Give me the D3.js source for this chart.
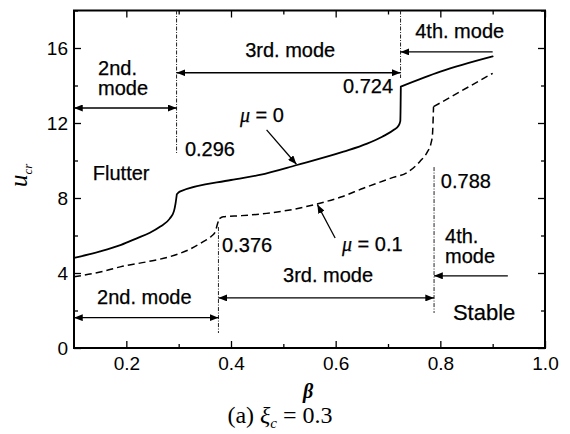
<!DOCTYPE html>
<html>
<head>
<meta charset="utf-8">
<script src="https://cdn.jsdelivr.net/npm/d3@7"></script>
<style>
  body { margin: 0; background: #fff; }
  svg { display: block; }
  .tick text { font-family: "Liberation Sans", Arial, sans-serif; font-size: 19px; fill: #000; }
  .lbl { font-family: "Liberation Sans", Arial, sans-serif; font-size: 20px; fill: #000; stroke: #000; stroke-width: 0.25px; }
</style>
</head>
<body>
<script>
// mu = 0 (solid)
var betaMu0 = [0.1, 0.15, 0.19, 0.22, 0.245, 0.265, 0.283, 0.291, 0.294, 0.2965, 0.302,
  0.4, 0.455, 0.526, 0.615, 0.66, 0.689, 0.712, 0.72, 0.7235, 0.7245, 0.8, 0.9];
var uMu0 = [4.8, 5.15, 5.5, 5.85, 6.15, 6.48, 6.9, 7.3, 7.7, 8.2, 8.34,
  8.96, 9.23, 9.76, 10.47, 10.9, 11.27, 11.65, 11.85, 12.1, 13.94, 14.74, 15.55];
var cornersMu0 = [9, 20];

// mu = 0.1 (dashed)
var betaMu01 = [0.1, 0.15, 0.19, 0.24, 0.283, 0.32, 0.347, 0.362, 0.37, 0.374, 0.378, 0.385,
  0.42, 0.468, 0.52, 0.564, 0.61, 0.653, 0.71, 0.736, 0.761, 0.775, 0.782, 0.785, 0.787, 0.9];
var uMu01 = [3.8, 4.05, 4.34, 4.6, 4.87, 5.25, 5.67, 5.95, 6.2, 6.6, 6.9, 7.0,
  7.06, 7.18, 7.4, 7.68, 8.05, 8.52, 9.1, 9.35, 9.95, 10.45, 10.9, 11.4, 12.87, 14.65];
var cornersMu01 = [10, 24];

// mode boundaries: beta value, u extent of the dotted line
var boundBeta = [0.296, 0.724, 0.376, 0.788];
var boundTop = [18, 18, 6.45, 9.65];
var boundBottom = [10.4, 14.4, 0.8, 1.87];

var xTicks = [0.2, 0.4, 0.6, 0.8, 1.0];
var xMinor = [0.3, 0.5, 0.7, 0.9];
var yTicks = [0, 4, 8, 12, 16];
var yMinor = [2, 6, 10, 14, 18];

var W = 570, H = 434;
var margin = {left: 74, top: 10.5, right: 25, bottom: 86};

var svg = d3.select("body").append("svg")
  .attr("width", W)
  .attr("height", H);

var x = d3.scaleLinear().domain([0.1, 1.0]).range([margin.left, W - margin.right]);
var y = d3.scaleLinear().domain([0, 18]).range([H - margin.bottom, margin.top]);

var defs = svg.append("defs");
defs.append("marker")
  .attr("id", "arr")
  .attr("viewBox", "0 0 10 8")
  .attr("refX", 10)
  .attr("refY", 4)
  .attr("markerWidth", 9)
  .attr("markerHeight", 7)
  .attr("markerUnits", "userSpaceOnUse")
  .attr("orient", "auto-start-reverse")
  .append("path")
  .attr("d", "M0,0 L10,4 L0,8 Z")
  .attr("fill", "#000");

// axes, ticks pointing inward on all four sides
var x0 = x.range()[0], x1 = x.range()[1], y0 = y.range()[0], y1 = y.range()[1];

function styleAxis(g) {
  g.select(".domain").remove();
  g.selectAll(".tick line").attr("stroke", "#000").attr("stroke-width", 1.3);
}

svg.append("g").attr("transform", "translate(0," + y0 + ")")
  .call(d3.axisBottom(x).tickValues(xTicks).tickFormat(d3.format(".1f")).tickSizeInner(-7).tickSizeOuter(0).tickPadding(9))
  .call(styleAxis);
svg.append("g").attr("transform", "translate(0," + y0 + ")")
  .call(d3.axisBottom(x).tickValues(xMinor).tickFormat("").tickSizeInner(-4).tickSizeOuter(0))
  .call(styleAxis);
svg.append("g").attr("transform", "translate(0," + y1 + ")")
  .call(d3.axisTop(x).tickValues(xTicks).tickFormat("").tickSizeInner(-7).tickSizeOuter(0))
  .call(styleAxis);
svg.append("g").attr("transform", "translate(0," + y1 + ")")
  .call(d3.axisTop(x).tickValues(xMinor).tickFormat("").tickSizeInner(-4).tickSizeOuter(0))
  .call(styleAxis);

svg.append("g").attr("transform", "translate(" + x0 + ",0)")
  .call(d3.axisLeft(y).tickValues(yTicks).tickFormat(d3.format("d")).tickSizeInner(-7).tickSizeOuter(0).tickPadding(6))
  .call(styleAxis);
svg.append("g").attr("transform", "translate(" + x0 + ",0)")
  .call(d3.axisLeft(y).tickValues(yMinor).tickFormat("").tickSizeInner(-4).tickSizeOuter(0))
  .call(styleAxis);
svg.append("g").attr("transform", "translate(" + x1 + ",0)")
  .call(d3.axisRight(y).tickValues(yTicks).tickFormat("").tickSizeInner(-7).tickSizeOuter(0))
  .call(styleAxis);
svg.append("g").attr("transform", "translate(" + x1 + ",0)")
  .call(d3.axisRight(y).tickValues(yMinor).tickFormat("").tickSizeInner(-4).tickSizeOuter(0))
  .call(styleAxis);

svg.selectAll(".tick text").attr("fill", "#000");

// frame
svg.append("rect")
  .attr("x", x0).attr("y", y1)
  .attr("width", x1 - x0).attr("height", y0 - y1)
  .attr("fill", "none").attr("stroke", "#000").attr("stroke-width", 2);

// dotted mode boundaries
svg.selectAll(".bound")
  .data(boundBeta)
  .enter()
  .append("line")
    .attr("class", "bound")
    .attr("x1", function(d) { return x(d); })
    .attr("x2", function(d) { return x(d); })
    .attr("y1", function(d, i) { return y(boundTop[i]); })
    .attr("y2", function(d, i) { return y(boundBottom[i]); })
    .attr("stroke", "#222")
    .attr("stroke-width", 1)
    .attr("stroke-dasharray", "4,1.5,1,1.5");

// curves: smooth pieces, broken at the sharp corners after each jump
var line = d3.line()
  .curve(d3.curveMonotoneX)
  .x(function(d) { return x(d[0]); })
  .y(function(d) { return y(d[1]); });

function curvePath(bs, us, corners) {
  var pts = d3.zip(bs, us);
  var cuts = [0].concat(corners, [pts.length - 1]);
  var d = "";
  for (var i = 0; i < cuts.length - 1; i++) {
    d += line(pts.slice(cuts[i], cuts[i + 1] + 1));
  }
  return d;
}

svg.append("path")
  .attr("d", curvePath(betaMu0, uMu0, cornersMu0))
  .attr("fill", "none")
  .attr("stroke", "#000")
  .attr("stroke-width", 1.8)
  .attr("stroke-linecap", "round");

svg.append("path")
  .attr("d", curvePath(betaMu01, uMu01, cornersMu01))
  .attr("fill", "none")
  .attr("stroke", "#000")
  .attr("stroke-width", 1.5)
  .attr("stroke-dasharray", "7,4");

// arrows (beta from, beta to, u, double headed?)
function arrow(b0, b1, u, both) {
  var l = svg.append("line")
    .attr("x1", x(b0)).attr("x2", x(b1))
    .attr("y1", y(u)).attr("y2", y(u))
    .attr("stroke", "#000").attr("stroke-width", 1.3)
    .attr("marker-end", "url(#arr)");
  if (both) l.attr("marker-start", "url(#arr)");
}
arrow(0.1, 0.296, 12.8, true);
arrow(0.296, 0.724, 14.68, true);
arrow(0.9, 0.724, 15.79, false);
arrow(0.1, 0.376, 1.62, true);
arrow(0.376, 0.788, 2.67, true);
arrow(0.929, 0.788, 3.85, false);

// leader arrows for the curve labels
function leader(b0, u0, b1, u1) {
  svg.append("line")
    .attr("x1", x(b0)).attr("y1", y(u0))
    .attr("x2", x(b1)).attr("y2", y(u1))
    .attr("stroke", "#000").attr("stroke-width", 1.3)
    .attr("marker-end", "url(#arr)");
}
leader(0.468, 11.63, 0.525, 9.8);
leader(0.599, 5.87, 0.565, 7.65);

// text labels (start anchored)
function label(txt, b, u, size) {
  svg.append("text")
    .attr("class", "lbl")
    .attr("x", x(b)).attr("y", y(u))
    .style("font-size", (size || 20) + "px")
    .text(txt);
}
label("2nd.", 0.146, 14.56);
label("mode", 0.146, 13.49);
label("3rd. mode", 0.427, 15.5);
label("4th. mode", 0.752, 16.53);
label("0.724", 0.614, 13.6);
label("0.296", 0.312, 10.24);
label("Flutter", 0.136, 8.96);
label("0.788", 0.801, 8.53);
label("0.376", 0.383, 5.12);
label("4th.", 0.809, 5.6);
label("mode", 0.809, 4.53);
label("3rd. mode", 0.4994, 3.52);
label("2nd. mode", 0.144, 2.35);
label("Stable", 0.824, 1.49, 22);

function muLabel(val, b, u) {
  var t = svg.append("text")
    .attr("class", "lbl")
    .attr("x", x(b)).attr("y", y(u));
  t.append("tspan")
    .style("font-family", "'Liberation Serif', 'Times New Roman', serif")
    .style("font-style", "italic")
    .text("\u03bc");
  t.append("tspan").text(" = " + val);
}
muLabel("0", 0.417, 12.05);
muLabel("0.1", 0.612, 5.17);

// axis titles
var ylab = svg.append("text")
  .attr("transform", "translate(27,187) rotate(-90)")
  .style("font-family", "'Liberation Serif', 'Times New Roman', serif")
  .style("font-style", "italic")
  .style("font-size", "25px");
ylab.append("tspan").text("u");
ylab.append("tspan").attr("dy", 5).style("font-size", "13px").text("cr");

svg.append("text")
  .attr("x", 308).attr("y", 398)
  .attr("text-anchor", "middle")
  .style("font-family", "'Liberation Serif', 'Times New Roman', serif")
  .style("font-style", "italic")
  .style("font-weight", "bold")
  .style("font-size", "20px")
  .text("\u03b2");

var cap = svg.append("text")
  .attr("x", 280).attr("y", 423)
  .attr("text-anchor", "middle")
  .style("font-family", "'Liberation Serif', 'Times New Roman', serif")
  .style("font-size", "24px");
cap.append("tspan").text("(a)  ");
cap.append("tspan").style("font-style", "italic").text("\u03be");
cap.append("tspan").attr("dy", 5).style("font-size", "15px").style("font-style", "italic").text("c");
cap.append("tspan").attr("dy", -5).text(" = 0.3");
</script>
</body>
</html>
